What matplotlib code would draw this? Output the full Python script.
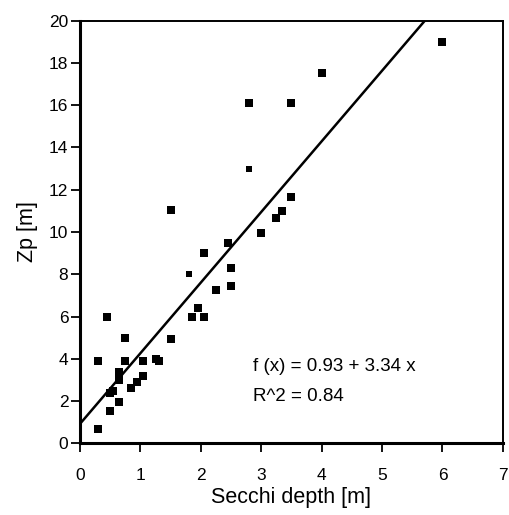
import matplotlib
matplotlib.use("Agg")
import matplotlib.pyplot as plt
import numpy as np

plt.rcParams["font.family"] = ["Liberation Sans", "DejaVu Sans"]

# Secchi depth [m] vs euphotic depth Zp [m]
secchi = [0.3, 0.3, 0.45, 0.5, 0.55, 0.5, 0.65, 0.65, 0.65, 0.75, 0.75, 0.85, 0.95,
          1.05, 1.05, 1.25, 1.3, 1.5, 1.85, 1.95, 2.05, 2.05, 2.25, 2.5, 2.5,
          2.45, 3.0, 3.25, 3.35, 3.5, 1.5, 2.8, 3.5, 4.0, 6.0]
zp = [0.7, 3.9, 6.0, 2.4, 2.5, 1.55, 1.95, 3.4, 3.0, 5.0, 3.9, 2.6, 2.9,
      3.2, 3.9, 4.0, 3.9, 4.95, 6.0, 6.4, 6.0, 9.0, 7.25, 8.3, 7.45,
      9.5, 9.95, 10.65, 11.0, 11.65, 11.05, 16.1, 16.1, 17.5, 19.0]
# smaller symbols
secchi_small = [1.8, 2.8]
zp_small = [8.0, 13.0]

intercept, slope = 0.93, 3.34
r2 = 0.84

fig = plt.figure(figsize=(5.1, 5.15), dpi=100)
ax = fig.add_axes([0.157, 0.139, 0.829, 0.821])

ax.plot(secchi, zp, "s", color="black", markersize=5.6, markeredgewidth=0)
ax.plot(secchi_small, zp_small, "s", color="black", markersize=4.0, markeredgewidth=0)

xl = np.array([0.0, (20 - intercept) / slope])
ax.plot(xl, intercept + slope * xl, color="black", lw=1.8)

ax.text(2.86, 3.63, f"f (x) = {intercept} + {slope} x", fontsize=13.5, va="center")
ax.text(2.86, 2.2, f"R^2 = {r2}", fontsize=13.5, va="center")

ax.set_xlim(0, 7)
ax.set_ylim(0, 20)
ax.set_xticks(range(0, 8))
ax.set_yticks(range(0, 21, 2))
ax.tick_params(direction="out", length=6.5, width=1.3, labelsize=12.5, colors="black")
ax.tick_params(axis="x", pad=11)
ax.tick_params(axis="y", pad=2)
for side in ("left", "bottom"):
    ax.spines[side].set_linewidth(2.2)
for side in ("top", "right"):
    ax.spines[side].set_linewidth(1.4)
ax.set_xlabel("Secchi depth [m]", fontsize=15.5, labelpad=3)
ax.set_ylabel("Zp [m]", fontsize=15.5, labelpad=8)

fig.savefig("out.png", dpi=100)
